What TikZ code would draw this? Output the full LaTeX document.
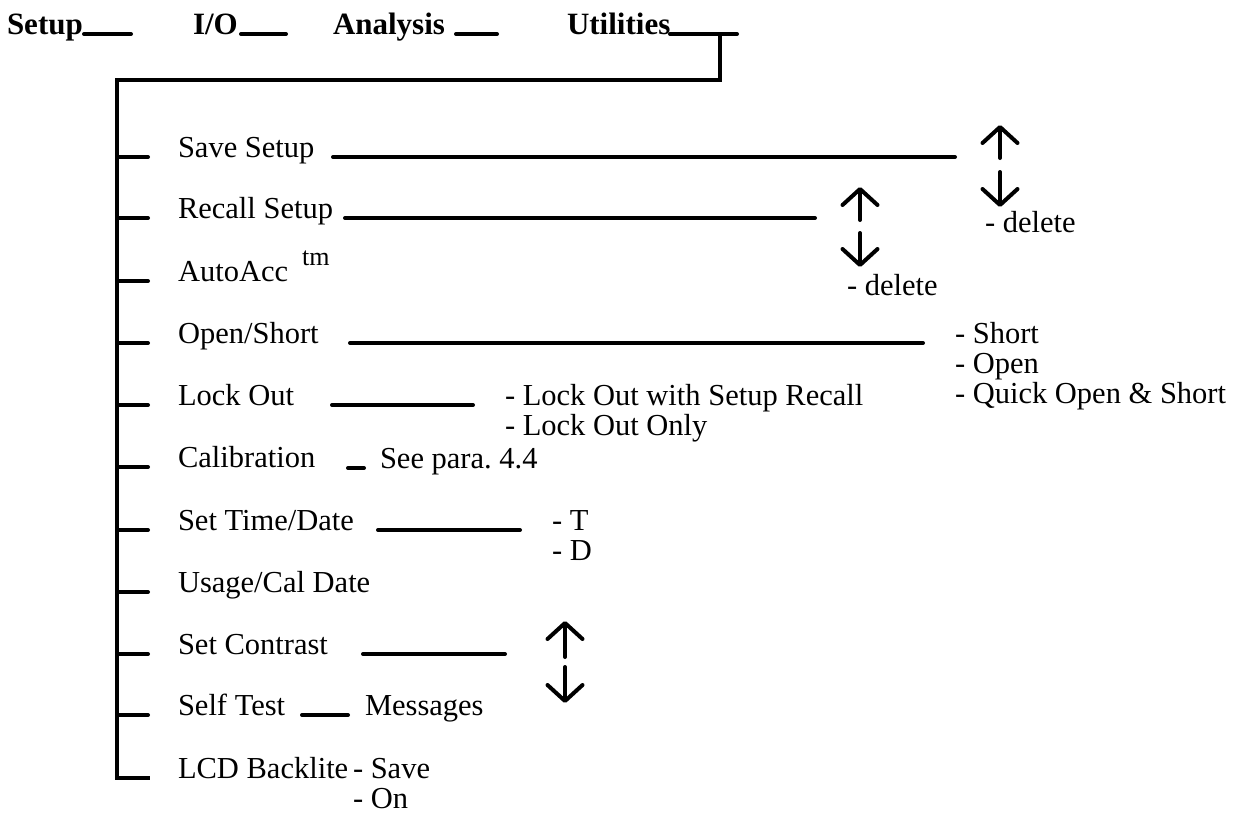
\documentclass[tikz,border=0pt]{standalone}
\usepackage{fontspec}
\setmainfont{Liberation Serif}
\usetikzlibrary{arrows.meta}
\frenchspacing
\begin{document}
\begin{tikzpicture}[x=1pt,y=-1pt,
  txt/.style={anchor=base west,inner sep=0pt,outer sep=0pt,font=\fontsize{30.5}{30.5}\selectfont},
  menu/.style={txt,font=\fontsize{31}{31}\selectfont\bfseries},
  sup/.style={anchor=base west,inner sep=0pt,font=\fontsize{26}{26}\selectfont},
  rule/.style={line width=4pt,line cap=round},
  spine/.style={line width=4pt,line cap=rect,line join=miter},
  updown/.style={line width=4pt,line cap=round,-{Straight Barb[length=16pt,width=35pt,line cap=round,line join=round]}}]
\useasboundingbox (0,0) rectangle (1246,814);
% top menu
\node[menu] (setup) at (7,34) {Setup};
\node[menu] (io) at (193,34) {I/O};
\node[menu] (analysis) at (333,34) {Analysis};
\node[menu] (util) at (567,34) {Utilities};
\draw[rule] (84,34) -- (131,34);
\draw[rule] (241,34) -- (286,34);
\draw[rule] (456,34) -- (497,34);
\coordinate (uend) at (737,34);
\coordinate (ucorner) at (720,80);
\coordinate (lcorner) at (117,80);
\coordinate (sbot) at (117,778);
\draw[rule] (670,34) -- (uend);
\draw[spine] (720,34) -- (ucorner) -- (lcorner) -- (sbot) -- (148,778);
% ticks
\foreach \y in {157,218,281,343,405,467,530,592,654,715}
  \draw[rule] (117,\y) -- (148,\y);
% items
\node[txt] (save) at (178,157) {Save Setup};
\node[txt] (recall) at (178,218) {Recall Setup};
\node[txt] (auto) at (178,281) {AutoAcc};
\node[sup] (tm) at (302,265) {tm};
\node[txt] (open) at (178,343) {Open/Short};
\node[txt] (lock) at (178,405) {Lock Out};
\node[txt] (cal) at (178,467) {Calibration};
\node[txt] (time) at (178,530) {Set Time/Date};
\node[txt] (usage) at (178,592) {Usage/Cal Date};
\node[txt] (contrast) at (178,654) {Set Contrast};
\node[txt] (self) at (178,715) {Self Test};
\node[txt] (lcd) at (178,778) {LCD Backlite};
% Save Setup
\draw[rule] (333,157) -- (955,157);
\draw[updown] (1000,158) -- (1000,125);
\draw[updown] (1000,172) -- (1000,207);
\node[txt] (del1) at (985,232) {- delete};
% Recall Setup
\draw[rule] (345,218) -- (815,218);
\draw[updown] (860,220) -- (860,187);
\draw[updown] (860,233) -- (860,267);
\node[txt] (del2) at (847,295) {- delete};
% Open/Short
\draw[rule] (350,343) -- (923,343);
\node[txt] (os1) at (955,343) {- Short};
\node[txt] (os2) at (955,373) {- Open};
\node[txt] (os3) at (955,403) {- Quick Open \& Short};
% Lock Out
\draw[rule] (332,405) -- (473,405);
\node[txt] (lo1) at (505,405) {- Lock Out with Setup Recall};
\node[txt] (lo2) at (505,435) {- Lock Out Only};
% Calibration
\draw[rule] (348,468) -- (364,468);
\node[txt] (para) at (380,468) {See para. 4.4};
% Set Time/Date
\draw[rule] (378,530) -- (520,530);
\node[txt] (tt) at (552,530) {- T};
\node[txt] (td) at (552,560) {- D};
% Set Contrast
\draw[rule] (363,654) -- (505,654);
\draw[updown] (565,657) -- (565,621);
\draw[updown] (565,667) -- (565,703);
% Self Test
\draw[rule] (302,715) -- (348,715);
\node[txt] (msg) at (365,715) {Messages};
% LCD Backlite
\node[txt] (ls) at (353,778) {- Save};
\node[txt] (lon) at (353,808) {- On};
\end{tikzpicture}
\end{document}
